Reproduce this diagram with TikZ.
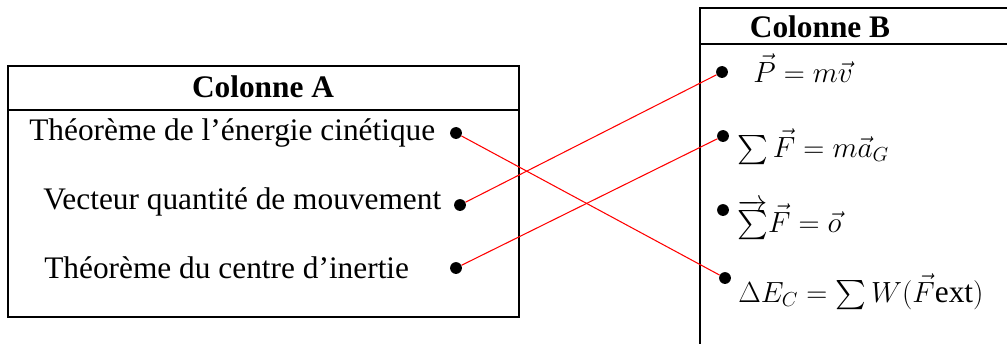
\documentclass[tikz,border=0pt]{standalone}
\usepackage{amsmath}
\usepackage{fontspec}
\setmainfont{Liberation Serif}
\usetikzlibrary{positioning}

\begin{document}
\begin{tikzpicture}[x=0.025cm, y=-0.025cm,
    cadre/.style={line width=1.4pt},
    texte/.style={anchor=base west, inner sep=0pt, font=\fontsize{22.3}{26}\selectfont},
    titre/.style={anchor=base, inner sep=0pt, font=\fontsize{22.3}{26}\selectfont\bfseries},
    point/.style={circle, fill=black, inner sep=0pt, minimum size=8.4pt},
    liaison/.style={red, line width=0.75pt}]
    \useasboundingbox (0,0) rectangle (1007,344);

    % Colonne A
    \draw[cadre] (8,66) rectangle (519,317);
    \draw[cadre] (8,110) -- (519,110);
    \node[titre] (colA) at (263,97) {Colonne A};
    \node[texte] (thEc) at (29,140) {Théorème de l’énergie cinétique};
    \node[texte] (vecQ) at (43,209) {Vecteur quantité de mouvement};
    \node[texte] (thCI) at (44,278) {Théorème du centre d’inertie};
    \node[point] (dA1) at (456,133) {};
    \node[point] (dA2) at (460,205) {};
    \node[point] (dA3) at (456,268) {};

    % Colonne B
    \draw[cadre] (1007,8) -- (700,8) -- (700,344);
    \draw[cadre] (700,44) -- (1007,44);
    \node[titre] (colB) at (820,37) {Colonne B};
    \node[texte] (eqP) at (753,82) {$\vec{P} = m\vec{v}$};
    \node[texte] (eqTCI) at (737,157) {$\sum\vec{F} = m\vec{a}_G$};
    \node[texte] (eqEq) at (737,232) {$\overrightarrow{\sum}\vec{F} = \vec{o}$};
    \node[texte] (eqEc) at (738,302) {$\Delta E_C = \sum W(\vec{F}\mathrm{ext})$};
    \node[point] (dB1) at (722,72) {};
    \node[point] (dB2) at (723,136) {};
    \node[point] (dB3) at (723,210) {};
    \node[point] (dB4) at (725,278) {};

    % Liaisons
    \draw[liaison] (dA1) -- (dB4);
    \draw[liaison] (dA2) -- (dB1);
    \draw[liaison] (dA3) -- (dB2);
\end{tikzpicture}
\end{document}
